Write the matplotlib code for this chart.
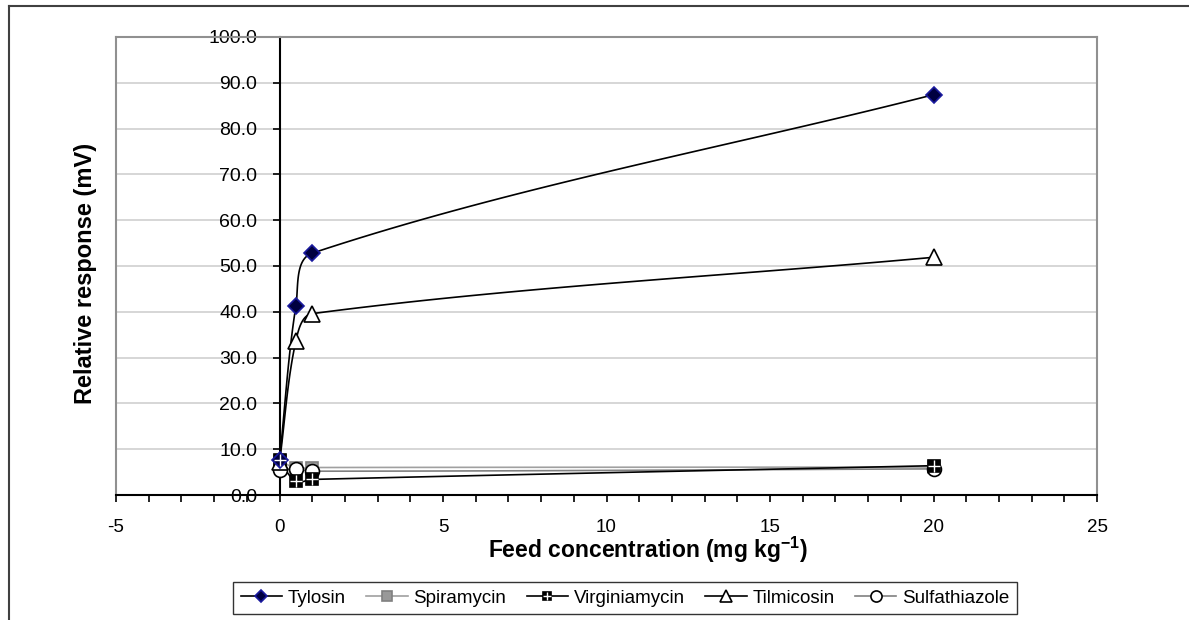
import matplotlib
matplotlib.use('Agg')
import matplotlib.pyplot as plt
import numpy as np
from matplotlib.lines import Line2D
from matplotlib.legend_handler import HandlerTuple

plt.rcParams['font.family'] = ['Liberation Sans', 'DejaVu Sans']
plt.rcParams['axes.unicode_minus'] = False

# data
conc = [0, 0.5, 1, 20]
tylosin = [7.6, 41.2, 52.8, 87.4]
spiramycin = [7.5, 5.9, 6.0, 6.1]
virginiamycin = [7.6, 3.0, 3.4, 6.4]
tilmicosin = [7.2, 33.6, 39.6, 51.9]
sulfathiazole = [5.5, 5.7, 5.2, 5.7]

fig = plt.figure(figsize=(11.89, 6.2), dpi=100)
ax = fig.add_axes([116 / 1189, 1 - 495 / 620, 981 / 1189, 458 / 620])
ax.set_xlim(-5, 25)
ax.set_ylim(0, 100)

# smoothed line (bezier, tangent length limited to the segment), in pixel space
def smooth(xs, ys, n=40):
    pts = ax.transData.transform(np.column_stack([xs, ys]))
    out = [pts[0]]
    for i in range(len(pts) - 1):
        p0 = pts[i - 1] if i > 0 else pts[i]
        p1, p2 = pts[i], pts[i + 1]
        p3 = pts[i + 2] if i + 2 < len(pts) else pts[i + 1]
        L = np.linalg.norm(p2 - p1)
        d1 = p2 - p0
        d2 = p3 - p1
        c1 = p1 + d1 / np.linalg.norm(d1) * L / 3
        c2 = p2 - d2 / np.linalg.norm(d2) * L / 3
        t = np.linspace(0, 1, n)[1:, None]
        seg = (1 - t) ** 3 * p1 + 3 * (1 - t) ** 2 * t * c1 + 3 * (1 - t) * t ** 2 * c2 + t ** 3 * p2
        out.extend(seg)
    out = ax.transData.inverted().transform(np.array(out))
    return out[:, 0], out[:, 1]

series = [
    ('Spiramycin', spiramycin, dict(color='#a0a0a0', marker='s', ms=9, mfc='#999999', mec='#808080')),
    ('Sulfathiazole', sulfathiazole, dict(color='#808080', marker='o', ms=10, mfc='white', mec='black')),
    ('Virginiamycin', virginiamycin, dict(color='black', marker='s', ms=8, mfc='black', mec='black')),
    ('Tilmicosin', tilmicosin, dict(color='black', marker='^', ms=11, mfc='white', mec='black')),
    ('Tylosin', tylosin, dict(color='black', marker='D', ms=8, mfc='#000040', mec='#1a1a9e')),
]

handles = {}
for name, ys, st in series:
    sx, sy = smooth(conc, ys)
    ax.plot(sx, sy, color=st['color'], lw=1.2, zorder=3)
    ax.plot(conc, ys, ls='none', marker=st['marker'], ms=st['ms'], mfc=st['mfc'],
            mec=st['mec'], mew=1.2, zorder=4)
    handles[name] = Line2D([], [], color=st['color'], lw=1.2, marker=st['marker'],
                           ms=st['ms'] * 0.8, mfc=st['mfc'], mec=st['mec'], mew=1.2)
    if name == 'Virginiamycin':
        ax.plot(conc, ys, ls='none', marker='+', ms=8, mec='white', mew=1.0, zorder=5)
        plus = Line2D([], [], ls='none', marker='+', ms=6.4, mec='white', mew=1.0)
        handles[name] = (handles[name], plus)

# axes styling
ax.set_yticks(np.arange(0, 101, 10))
ax.set_yticklabels([f'{v:.1f}' for v in np.arange(0, 101, 10)])
ax.set_xticks(np.arange(-5, 26, 5))
ax.set_xticks(np.arange(-5, 26, 1), minor=True)
ax.grid(axis='y', color='#d0d0d0', lw=1.2, zorder=0)
ax.spines['left'].set_position(('data', 0))
ax.spines['left'].set_color('black')
ax.spines['left'].set_linewidth(1.5)
ax.spines['bottom'].set_color('black')
ax.spines['bottom'].set_linewidth(1.5)
for s in ['top', 'right']:
    ax.spines[s].set_color('#909090')
    ax.spines[s].set_linewidth(1.5)
ax.plot([0, 0], [0, 1], transform=ax.transAxes, color='#909090', lw=1.5, clip_on=False, zorder=1)
ax.tick_params(axis='y', direction='out', length=5, width=1.2, labelsize=14, pad=11)
ax.tick_params(axis='x', which='both', direction='out', length=5, width=1.2, labelsize=13.5, pad=12)
ax.set_axisbelow(True)

ax.set_ylabel('Relative response (mV)', fontsize=17, fontweight='bold', labelpad=0)
ax.yaxis.set_label_coords(-0.019, 0.483)
ax.set_xlabel('Feed concentration (mg kg$^{\\mathregular{-1}}$)', fontsize=16.5,
              fontweight='bold', labelpad=0)
ax.xaxis.set_label_coords(0.542, -0.086)

order = ['Tylosin', 'Spiramycin', 'Virginiamycin', 'Tilmicosin', 'Sulfathiazole']
leg = fig.legend([handles[k] for k in order], order, loc='center', bbox_to_anchor=(625 / 1189, 1 - 598 / 620),
                 ncol=5, fontsize=13.5, frameon=True, fancybox=False, edgecolor='black',
                 handlelength=2.2, handletextpad=0.3, columnspacing=1.1, borderpad=0.4,
                 handler_map={tuple: HandlerTuple(ndivide=1)})
leg.get_frame().set_linewidth(1.0)

# outer chart border (cropped at right/bottom)
fig.add_artist(Line2D([9 / 1189, 1], [1 - 6 / 620, 1 - 6 / 620], color='#404040', lw=1.5))
fig.add_artist(Line2D([9 / 1189, 9 / 1189], [0, 1 - 6 / 620], color='#404040', lw=1.5))

fig.savefig('out.png', dpi=100)
